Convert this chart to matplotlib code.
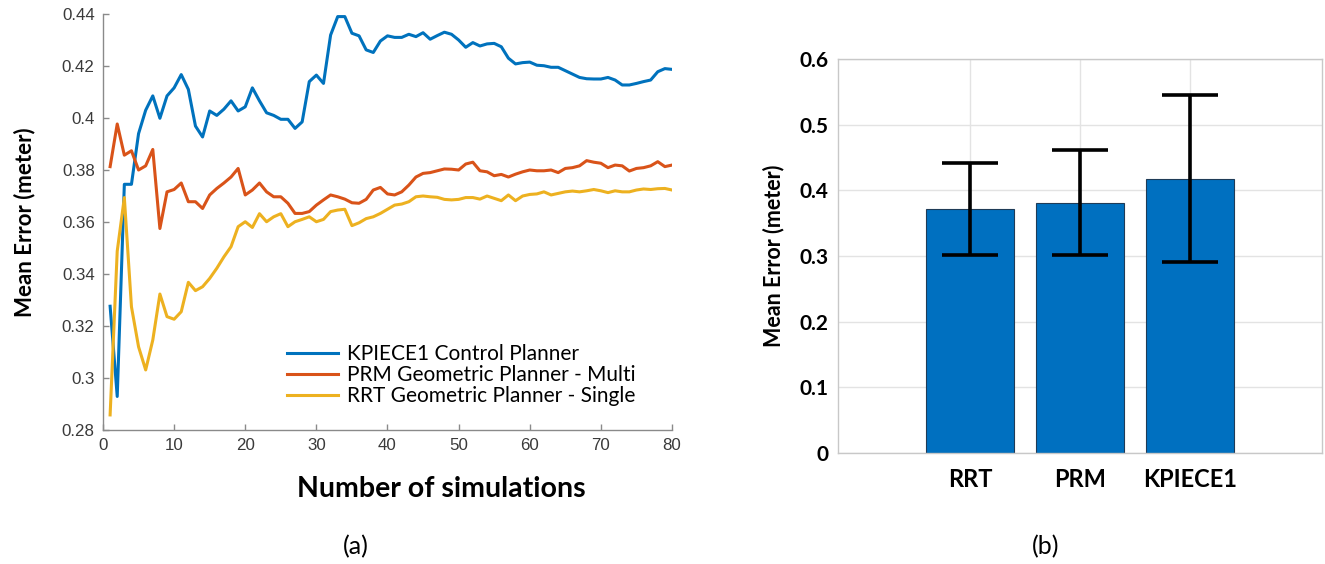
"""Planner comparison figure: (a) running mean error, (b) final mean error with spread."""

import matplotlib
matplotlib.use("Agg")
import matplotlib.pyplot as plt
import numpy as np

# ---------------------------------------------------------------------------
# Data
# ---------------------------------------------------------------------------

n_sims = np.arange(1, 81)

kpiece_err = [
    0.3276, 0.2929, 0.3745, 0.3745, 0.3940, 0.4030, 0.4085, 0.3999, 0.4085, 0.4116,
    0.4167, 0.4110, 0.3969, 0.3927, 0.4027, 0.4010, 0.4034, 0.4066, 0.4027, 0.4043,
    0.4116, 0.4066, 0.4020, 0.4010, 0.3995, 0.3995, 0.3960, 0.3985, 0.4140, 0.4165,
    0.4133, 0.4319, 0.4390, 0.4390, 0.4326, 0.4316, 0.4262, 0.4252, 0.4296, 0.4316,
    0.4310, 0.4310, 0.4322, 0.4313, 0.4328, 0.4303, 0.4317, 0.4330, 0.4322, 0.4300,
    0.4272, 0.4290, 0.4277, 0.4285, 0.4287, 0.4274, 0.4230, 0.4208, 0.4213, 0.4215,
    0.4203, 0.4201, 0.4195, 0.4195, 0.4182, 0.4169, 0.4156, 0.4151, 0.4150, 0.4150,
    0.4156, 0.4146, 0.4127, 0.4127, 0.4133, 0.4140, 0.4146, 0.4178, 0.4190, 0.4187,
]

prm_err = [
    0.3813, 0.3977, 0.3857, 0.3874, 0.3800, 0.3816, 0.3879, 0.3575, 0.3716, 0.3725,
    0.3750, 0.3678, 0.3678, 0.3652, 0.3704, 0.3729, 0.3750, 0.3773, 0.3806, 0.3704,
    0.3723, 0.3750, 0.3716, 0.3697, 0.3697, 0.3672, 0.3633, 0.3633, 0.3640, 0.3665,
    0.3685, 0.3704, 0.3697, 0.3688, 0.3674, 0.3672, 0.3687, 0.3723, 0.3733, 0.3708,
    0.3704, 0.3716, 0.3742, 0.3773, 0.3787, 0.3790, 0.3797, 0.3804, 0.3803, 0.3800,
    0.3823, 0.3830, 0.3797, 0.3793, 0.3778, 0.3783, 0.3773, 0.3784, 0.3793, 0.3800,
    0.3797, 0.3797, 0.3800, 0.3790, 0.3806, 0.3809, 0.3816, 0.3836, 0.3830, 0.3826,
    0.3809, 0.3819, 0.3816, 0.3796, 0.3806, 0.3809, 0.3816, 0.3832, 0.3813, 0.3819,
]

rrt_err = [
    0.2858, 0.3488, 0.3694, 0.3274, 0.3120, 0.3031, 0.3146, 0.3323, 0.3236, 0.3226,
    0.3255, 0.3368, 0.3336, 0.3351, 0.3383, 0.3422, 0.3466, 0.3505, 0.3582, 0.3601,
    0.3579, 0.3632, 0.3601, 0.3620, 0.3632, 0.3582, 0.3601, 0.3610, 0.3620, 0.3601,
    0.3610, 0.3640, 0.3646, 0.3649, 0.3586, 0.3597, 0.3613, 0.3620, 0.3633, 0.3649,
    0.3665, 0.3669, 0.3678, 0.3697, 0.3700, 0.3697, 0.3695, 0.3687, 0.3685, 0.3687,
    0.3694, 0.3694, 0.3688, 0.3700, 0.3691, 0.3682, 0.3704, 0.3682, 0.3700, 0.3706,
    0.3708, 0.3716, 0.3704, 0.3710, 0.3716, 0.3719, 0.3716, 0.3720, 0.3725, 0.3720,
    0.3713, 0.3720, 0.3716, 0.3716, 0.3723, 0.3727, 0.3725, 0.3728, 0.3729, 0.3723,
]

series_labels = [
    "KPIECE1 Control Planner",
    "PRM Geometric Planner - Multi",
    "RRT Geometric Planner - Single",
]

planners = ["RRT", "PRM", "KPIECE1"]
mean_error = [0.372, 0.381, 0.418]
err_low = [0.3015, 0.3015, 0.291]
err_high = [0.441, 0.461, 0.545]

# MATLAB default line colours
C_BLUE = "#0072BD"
C_RED = "#D95319"
C_YELLOW = "#EDB120"
TXT_FONT = "Lato"

# ---------------------------------------------------------------------------
# Figure
# ---------------------------------------------------------------------------

W, H = 1325, 564
fig = plt.figure(figsize=(W / 100, H / 100), dpi=100)
fig.patch.set_facecolor("white")


def _box(l, t, r, b):
    return [l / W, 1 - b / H, (r - l) / W, (b - t) / H]


# --- (a) running mean error ---
ax1 = fig.add_axes(_box(103, 14, 672, 430))
ax1.plot(n_sims, kpiece_err, color=C_BLUE, lw=2.2, label=series_labels[0])
ax1.plot(n_sims, prm_err, color=C_RED, lw=2.2, label=series_labels[1])
ax1.plot(n_sims, rrt_err, color=C_YELLOW, lw=2.2, label=series_labels[2])
ax1.set_xlim(0, 80)
ax1.set_ylim(0.28, 0.44)
ax1.set_xticks(np.arange(0, 81, 10))
ax1.set_yticks(np.arange(0.28, 0.4401, 0.02))
ax1.set_yticklabels(["0.28", "0.3", "0.32", "0.34", "0.36", "0.38", "0.4", "0.42", "0.44"])
for s in ("top", "right"):
    ax1.spines[s].set_visible(False)
for s in ("left", "bottom"):
    ax1.spines[s].set_color("#8a8a8a")
    ax1.spines[s].set_linewidth(1.0)
ax1.tick_params(direction="in", length=4, width=1, color="#8a8a8a",
                labelsize=12.2, labelcolor="#3a3a3a", pad=6)
for lab in ax1.get_xticklabels() + ax1.get_yticklabels():
    lab.set_family("Liberation Sans")
ax1.set_xlabel("Number of simulations", family=TXT_FONT, fontweight="bold",
               fontsize=20.5, labelpad=16)
ax1.xaxis.set_label_coords(0.594, -0.11)
ax1.set_ylabel("Mean Error (meter)", family=TXT_FONT, fontweight="bold",
               fontsize=16, labelpad=19)
leg = ax1.legend(loc="center left", bbox_to_anchor=(0.323, 0.132), frameon=False,
                 prop={"family": TXT_FONT, "size": 15}, handlelength=2.45,
                 handletextpad=0.45, labelspacing=0.05, borderpad=0,
                 borderaxespad=0)

# --- (b) final mean error per planner ---
ax2 = fig.add_axes(_box(838, 59, 1322, 453))
pos = np.arange(1, len(planners) + 1)
yerr = [np.array(mean_error) - np.array(err_low), np.array(err_high) - np.array(mean_error)]
ax2.bar(pos, mean_error, width=0.8, color="#0070C0", edgecolor="#1f3b57",
        linewidth=0.8, zorder=2)
ax2.errorbar(pos, mean_error, yerr=yerr, fmt="none", ecolor="black",
             elinewidth=2.6, capsize=20.5, capthick=2.6, zorder=3)
ax2.set_xlim(-0.2, 4.2)
ax2.set_ylim(0, 0.6)
ax2.set_xticks(pos)
ax2.set_xticklabels(planners)
ax2.set_yticks(np.arange(0, 0.61, 0.1))
ax2.set_yticklabels(["0", "0.1", "0.2", "0.3", "0.4", "0.5", "0.6"])
ax2.grid(True, color="#e3e3e3", linewidth=1.0, zorder=0)
ax2.set_axisbelow(True)
for s in ax2.spines.values():
    s.set_color("#c8c8c8")
    s.set_linewidth(1.0)
ax2.tick_params(axis="y", length=0, pad=7)
ax2.tick_params(axis="x", length=0, pad=11)
for lab in ax2.get_xticklabels():
    lab.set_family(TXT_FONT)
    lab.set_fontweight("bold")
    lab.set_fontsize(17)
for lab in ax2.get_yticklabels():
    lab.set_family(TXT_FONT)
    lab.set_fontweight("bold")
    lab.set_fontsize(15)
ax2.set_ylabel("Mean Error (meter)", family=TXT_FONT, fontweight="bold",
               fontsize=15.5, labelpad=11)

# --- panel captions ---
fig.text(356 / W, 1 - 547 / H, "(a)", family=TXT_FONT, fontsize=18,
         ha="center", va="center")
fig.text(1046 / W, 1 - 547 / H, "(b)", family=TXT_FONT, fontsize=18,
         ha="center", va="center")

fig.savefig("out.png", dpi=100, facecolor="white")
